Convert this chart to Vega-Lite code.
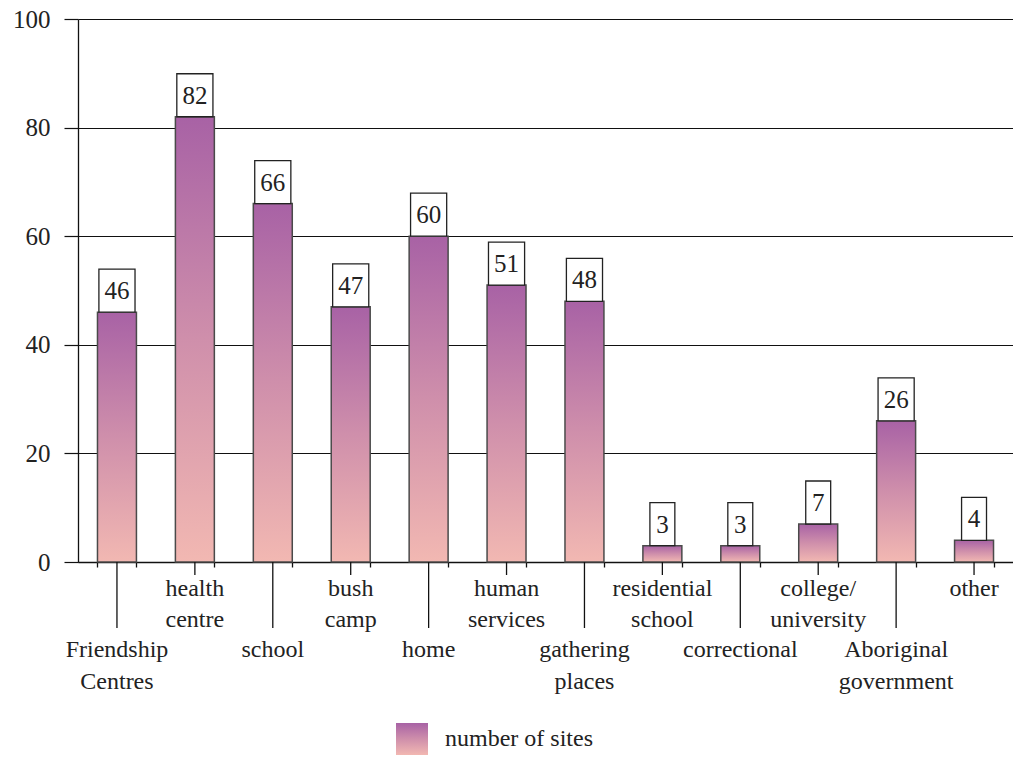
{
  "$schema": "https://vega.github.io/schema/vega-lite/v6.json",
  "autosize": "none",
  "padding": {"left": 78, "top": 19, "right": 0, "bottom": 199},
  "width": 935,
  "height": 543,
  "background": "white",
  "config": {
    "view": {"stroke": null},
    "font": "Liberation Serif, Times New Roman, serif",
    "text": {"font": "Liberation Serif, Times New Roman, serif", "color": "#222222"}
  },
  "data": {
    "values": [
      {"category": "Friendship\nCentres", "value": 46},
      {"category": "health\ncentre", "value": 82},
      {"category": "school", "value": 66},
      {"category": "bush\ncamp", "value": 47},
      {"category": "home", "value": 60},
      {"category": "human\nservices", "value": 51},
      {"category": "gathering\nplaces", "value": 48},
      {"category": "residential\nschool", "value": 3},
      {"category": "correctional", "value": 3},
      {"category": "college/\nuniversity", "value": 7},
      {"category": "Aboriginal\ngovernment", "value": 26},
      {"category": "other", "value": 4}
    ]
  },
  "encoding": {
    "x": {
      "field": "category",
      "type": "nominal",
      "sort": null,
      "scale": {"paddingInner": 0.5, "paddingOuter": 0.25},
      "axis": {
        "title": null,
        "labels": false,
        "tickBand": "extent",
        "tickSize": 5,
        "tickColor": "#111111",
        "tickWidth": 1.3,
        "domainColor": "#111111",
        "domainWidth": 1.3
      }
    }
  },
  "layer": [
    {
      "mark": {
        "type": "bar",
        "stroke": "#4a4a4a",
        "strokeWidth": 1.5,
        "color": {
          "gradient": "linear",
          "x1": 0, "y1": 0, "x2": 0, "y2": 1,
          "stops": [
            {"offset": 0, "color": "#a862a5"},
            {"offset": 0.5, "color": "#cf8fab"},
            {"offset": 1, "color": "#f2b8b2"}
          ]
        }
      },
      "encoding": {
        "y": {
          "field": "value",
          "type": "quantitative",
          "scale": {"domain": [0, 100]},
          "axis": {
            "title": null,
            "values": [0, 20, 40, 60, 80, 100],
            "grid": true,
            "gridColor": "#111111",
            "gridWidth": 1.2,
            "gridOpacity": 1,
            "tickSize": 14,
            "tickColor": "#111111",
            "tickWidth": 1.2,
            "domainColor": "#111111",
            "domainWidth": 1.3,
            "labelFont": "Liberation Serif, Times New Roman, serif",
            "labelFontSize": 25,
            "labelColor": "#222222",
            "labelPadding": 14
          }
        }
      }
    },
    {
      "mark": {
        "type": "point",
        "filled": true,
        "opacity": 0,
        "stroke": "#333333",
        "strokeWidth": 1.5,
        "fill": {
          "gradient": "linear",
          "x1": 0, "y1": 0, "x2": 0, "y2": 1,
          "stops": [
            {"offset": 0, "color": "#a862a5"},
            {"offset": 0.5, "color": "#cf8fab"},
            {"offset": 1, "color": "#f2b8b2"}
          ]
        }
      },
      "encoding": {
        "y": {"datum": 0},
        "shape": {
          "datum": "number of sites",
          "type": "nominal",
          "scale": {"range": ["square"]},
          "legend": {
            "title": null,
            "orient": "none",
            "legendX": 317,
            "legendY": 703,
            "symbolType": "square",
            "symbolSize": 1024,
            "symbolStrokeColor": "#333333",
            "symbolStrokeWidth": 1.5,
            "symbolOpacity": 1,
            "labelFont": "Liberation Serif, Times New Roman, serif",
            "labelFontSize": 24,
            "labelColor": "#222222",
            "labelOffset": 16
          }
        }
      }
    },
    {
      "mark": {"type": "point", "filled": true, "fill": "white", "stroke": "#222222", "strokeWidth": 1.3, "opacity": 1},
      "encoding": {
        "y": {"field": "value", "type": "quantitative"},
        "size": {"value": 7396},
        "shape": {
          "condition": {"test": "datum.value < 10", "value": "M-0.29,-1L0.29,-1L0.29,0L-0.29,0Z"},
          "value": "M-0.42,-1L0.42,-1L0.42,0L-0.42,0Z"
        }
      }
    },
    {
      "mark": {"type": "text", "fontSize": 25, "baseline": "middle", "align": "center", "dy": -21},
      "encoding": {
        "y": {"field": "value", "type": "quantitative"},
        "text": {"field": "value", "type": "quantitative"}
      }
    },
    {
      "transform": [{"filter": {"field": "category", "oneOf": ["health\ncentre", "bush\ncamp", "human\nservices", "residential\nschool", "college/\nuniversity", "other"]}}],
      "layer": [
        {
          "mark": {"type": "point", "filled": false, "stroke": "#111111", "strokeWidth": 1.3, "opacity": 1, "shape": "M0,0L0,1"},
          "encoding": {"y": {"datum": 0}, "size": {"value": 676}}
        },
        {
          "mark": {"type": "text", "fontSize": 24, "baseline": "top", "align": "center", "lineBreak": "\n", "lineHeight": 31, "dy": 15},
          "encoding": {"y": {"datum": 0}, "text": {"field": "category", "type": "nominal"}}
        }
      ]
    },
    {
      "transform": [{"filter": {"field": "category", "oneOf": ["Friendship\nCentres", "school", "home", "gathering\nplaces", "correctional", "Aboriginal\ngovernment"]}}],
      "layer": [
        {
          "mark": {"type": "point", "filled": false, "stroke": "#111111", "strokeWidth": 1.3, "opacity": 1, "shape": "M0,0L0,1"},
          "encoding": {"y": {"datum": 0}, "size": {"value": 17424}}
        },
        {
          "mark": {"type": "text", "fontSize": 24, "baseline": "top", "align": "center", "lineBreak": "\n", "lineHeight": 32, "dy": 76},
          "encoding": {"y": {"datum": 0}, "text": {"field": "category", "type": "nominal"}}
        }
      ]
    }
  ]
}
